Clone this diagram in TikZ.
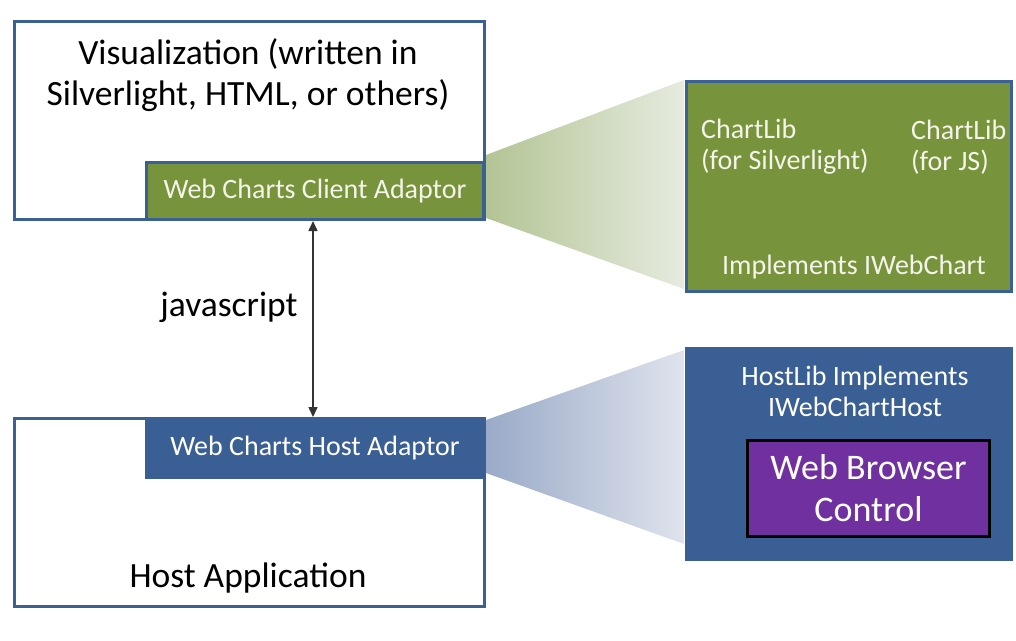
\documentclass[tikz,border=0pt]{standalone}
\usepackage{fontspec}
\setmainfont{Carlito}
\usetikzlibrary{arrows.meta}
\definecolor{bordblue}{HTML}{3B6094}
\definecolor{fillblue}{HTML}{3A5F94}
\definecolor{libgreen}{HTML}{77933C}
\definecolor{gL}{HTML}{B3C495}
\definecolor{gR}{HTML}{E6EBDF}
\definecolor{bL}{HTML}{9AAAC8}
\definecolor{bR}{HTML}{DFE3ED}
\definecolor{purp}{HTML}{7030A0}
\definecolor{lighttext}{HTML}{F4F4EA}
\begin{document}
\begin{tikzpicture}[x=1pt,y=-1pt,
  outbox/.style={draw=bordblue, line width=3pt, fill=white, anchor=north west, inner sep=0pt},
  greenbox/.style={draw=bordblue, line width=3pt, fill=libgreen, anchor=north west, inner sep=0pt, text=lighttext},
  bluebox/.style={draw=fillblue, line width=3pt, fill=fillblue, anchor=north west, inner sep=0pt, text=white},
  purpbox/.style={draw=black, line width=3pt, fill=purp, anchor=north west, inner sep=0pt, text=white, align=center},
  bigtxt/.style={font=\fontsize{35.5}{41}\selectfont, align=center},
  midtxt/.style={font=\fontsize{28}{31}\selectfont, align=center},
  arr/.style={draw=black!80, line width=1.5pt, {Triangle[width=9pt,length=10pt]}-{Triangle[width=9pt,length=10pt]}}
]
\useasboundingbox (0,0) rectangle (1016,640);
% cones
\shade[left color=gL, right color=gR] (486,155) -- (684,80) -- (684,289) -- (486,218) -- cycle;
\shade[left color=bL, right color=bR] (486,420) -- (684,350) -- (684,544) -- (486,473) -- cycle;
% top left
\node[outbox, minimum width=470pt, minimum height=198pt] (vis) at (13,20) {};
\node[bigtxt] (vistext) at (248,75) {Visualization (written in\\Silverlight, HTML, or others)};
\node[greenbox, minimum width=337pt, minimum height=57pt, font=\fontsize{28}{31}\selectfont] (client) at (145,161) {Web Charts Client Adaptor};
% bottom left
\node[outbox, minimum width=470pt, minimum height=188pt] (host) at (13,417) {};
\node[bluebox, minimum width=337pt, minimum height=59pt, font=\fontsize{28}{31}\selectfont] (hostad) at (145,417) {Web Charts Host Adaptor};
\node[bigtxt] (hostapp) at (248,578) {Host Application};
% connector
\draw[arr] (client.south -| 313,0) -- (hostad.north -| 313,0);
\node[bigtxt] (js) at (229,307) {javascript};
% right green
\node[greenbox, minimum width=325pt, minimum height=210pt] (lib) at (685,80) {};
\node[midtxt, align=left, anchor=west, text=lighttext, inner sep=0pt] (cl1) at (701,147) {ChartLib\\(for Silverlight)};
\node[midtxt, align=left, anchor=west, text=lighttext, inner sep=0pt] (cl2) at (911,147) {ChartLib\\(for JS)};
\node[midtxt, text=lighttext] (impl) at (854,267) {Implements IWebChart};
% right blue
\node[bluebox, minimum width=325pt, minimum height=211pt] (hlib) at (685,347) {};
\node[midtxt, text=white] (hltext) at (855,391) {HostLib Implements\\IWebChartHost};
\node[purpbox, minimum width=242pt, minimum height=96pt, font=\fontsize{36}{42}\selectfont] (wb) at (746,439) {Web Browser\\Control};
\end{tikzpicture}
\end{document}
